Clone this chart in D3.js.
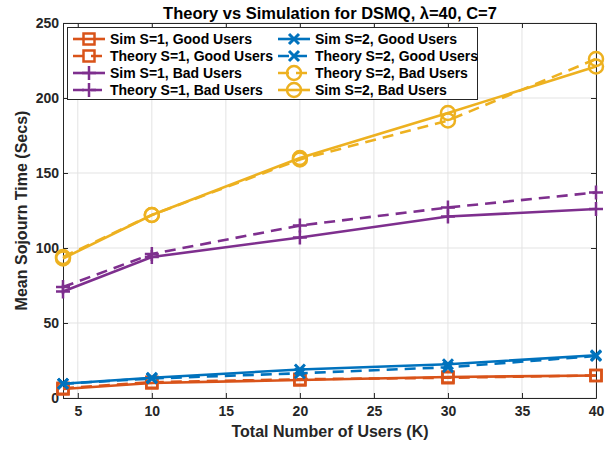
<!DOCTYPE html>
<html>
<head>
<meta charset="utf-8">
<script src="https://cdn.jsdelivr.net/npm/d3@7"></script>
<style>
  body { margin: 0; background: #fff; }
  text { font-family: "Liberation Sans", Arial, sans-serif; font-weight: bold; }
</style>
</head>
<body>
<svg id="chart" width="615" height="450"></svg>
<script>
// Total number of users (K)
const users = [4, 10, 20, 30, 40];

// Mean sojourn time (seconds) per series
const simS1Good    = [6, 10, 12, 14, 15];
const theoryS1Good = [6.5, 10.5, 12.5, 13.5, 15];
const simS1Bad     = [71, 94, 107, 121, 126];
const theoryS1Bad  = [74, 96, 115, 127, 137];
const simS2Good    = [9.5, 13.5, 19, 22.5, 28.5];
const theoryS2Good = [9.5, 13, 16.5, 20.5, 28];
const theoryS2Bad  = [94, 122, 159, 185, 226];
const simS2Bad     = [93, 122, 160, 190, 221];

const xTicks = [5, 10, 15, 20, 25, 30, 35, 40];
const yTicks = [0, 50, 100, 150, 200, 250];

const series = [
  { name: "Sim S=1, Good Users",    values: simS1Good,    color: "#D95319", dash: false, marker: "square" },
  { name: "Theory S=1, Good Users", values: theoryS1Good, color: "#D95319", dash: true,  marker: "square" },
  { name: "Sim S=1, Bad Users",     values: simS1Bad,     color: "#7E2F8E", dash: false, marker: "plus" },
  { name: "Theory S=1, Bad Users",  values: theoryS1Bad,  color: "#7E2F8E", dash: true,  marker: "plus" },
  { name: "Sim S=2, Good Users",    values: simS2Good,    color: "#0072BD", dash: false, marker: "cross" },
  { name: "Theory S=2, Good Users", values: theoryS2Good, color: "#0072BD", dash: true,  marker: "cross" },
  { name: "Theory S=2, Bad Users",  values: theoryS2Bad,  color: "#EDB120", dash: true,  marker: "circle" },
  { name: "Sim S=2, Bad Users",     values: simS2Bad,     color: "#EDB120", dash: false, marker: "circle" }
];

const svg = d3.select("#chart");
const margin = { left: 63, right: 19, top: 23, bottom: 52 };
const W = 615, H = 450;
const x = d3.scaleLinear().domain([4, 40]).range([margin.left, W - margin.right]);
const y = d3.scaleLinear().domain([0, 250]).range([H - margin.bottom, margin.top]);

const plot = svg.append("g");

// grid
plot.append("g").selectAll("line").data(xTicks).join("line")
  .attr("x1", d => x(d)).attr("x2", d => x(d))
  .attr("y1", y(0)).attr("y2", y(250))
  .attr("stroke", "#e3e3e3").attr("stroke-width", 1);
plot.append("g").selectAll("line").data(yTicks).join("line")
  .attr("x1", x(4)).attr("x2", x(40))
  .attr("y1", d => y(d)).attr("y2", d => y(d))
  .attr("stroke", "#e3e3e3").attr("stroke-width", 1);

// axes (ticks pointing inward)
const axisStyle = g => {
  g.select(".domain").attr("stroke", "#262626").attr("stroke-width", 1);
  g.selectAll(".tick line").attr("stroke", "#262626");
  g.selectAll(".tick text").attr("fill", "#262626")
    .style("font-size", "14px").style("font-weight", "bold")
    .style("font-family", "'Liberation Sans', Arial, sans-serif");
};
svg.append("g").attr("transform", `translate(0,${y(0)})`)
  .call(d3.axisBottom(x).tickValues(xTicks).tickSize(-5).tickPadding(8).tickSizeOuter(0))
  .call(axisStyle);
svg.append("g").attr("transform", `translate(0,${y(250)})`)
  .call(d3.axisTop(x).tickValues(xTicks).tickSize(-5).tickFormat("").tickSizeOuter(0))
  .call(axisStyle);
svg.append("g").attr("transform", `translate(${x(4)},0)`)
  .call(d3.axisLeft(y).tickValues(yTicks).tickSize(-5).tickPadding(4).tickSizeOuter(0))
  .call(axisStyle)
  .call(g => g.selectAll(".tick text").attr("x", -4));
svg.append("g").attr("transform", `translate(${x(40)},0)`)
  .call(d3.axisRight(y).tickValues(yTicks).tickSize(-5).tickFormat("").tickSizeOuter(0))
  .call(axisStyle);

// marker drawing
function drawMarker(g, type, cx, cy, color) {
  const sw = 2.5;
  if (type === "square") {
    g.append("rect").attr("x", cx - 5.5).attr("y", cy - 5.5).attr("width", 11).attr("height", 11)
      .attr("fill", "none").attr("stroke", color).attr("stroke-width", sw);
  } else if (type === "circle") {
    g.append("circle").attr("cx", cx).attr("cy", cy).attr("r", 7)
      .attr("fill", "none").attr("stroke", color).attr("stroke-width", sw);
  } else if (type === "plus") {
    g.append("path").attr("d", `M${cx - 7},${cy}H${cx + 7}M${cx},${cy - 7}V${cy + 7}`)
      .attr("stroke", color).attr("stroke-width", sw).attr("fill", "none");
  } else if (type === "cross") {
    const r = 5;
    g.append("path").attr("d", `M${cx - r},${cy - r}L${cx + r},${cy + r}M${cx - r},${cy + r}L${cx + r},${cy - r}`)
      .attr("stroke", color).attr("stroke-width", 3).attr("fill", "none");
  }
}

const line = d3.line().x((d, i) => x(users[i])).y(d => y(d));

series.forEach(s => {
  const g = svg.append("g");
  g.append("path").datum(s.values).attr("d", line)
    .attr("fill", "none").attr("stroke", s.color).attr("stroke-width", 2.6)
    .attr("stroke-dasharray", s.dash ? "11,7" : null);
  s.values.forEach((v, i) => drawMarker(g, s.marker, x(users[i]), y(v), s.color));
});

// legend
const lg = svg.append("g");
lg.append("rect").attr("x", 67.5).attr("y", 27.5).attr("width", 410).attr("height", 72)
  .attr("fill", "#fff").attr("stroke", "#262626").attr("stroke-width", 1);
series.forEach((s, i) => {
  const col = Math.floor(i / 4), row = i % 4;
  const lx = 73 + col * 205, ly = 39 + row * 17;
  const g = lg.append("g");
  g.append("line").attr("x1", lx).attr("x2", lx + 32).attr("y1", ly).attr("y2", ly)
    .attr("stroke", s.color).attr("stroke-width", 2.6)
    .attr("stroke-dasharray", s.dash ? "11,7" : null);
  drawMarker(g, s.marker, lx + 16, ly, s.color);
  g.append("text").attr("x", lx + 37).attr("y", ly + 5).attr("fill", "#000")
    .style("font-size", "14px").text(s.name);
});

// title and axis labels
svg.append("text").attr("x", 330).attr("y", 18.5).attr("text-anchor", "middle")
  .attr("fill", "#000").style("font-size", "16.5px")
  .text("Theory vs Simulation for DSMQ, λ=40, C=7");
svg.append("text").attr("x", 330).attr("y", 437).attr("text-anchor", "middle")
  .attr("fill", "#262626").style("font-size", "16px").text("Total Number of Users (K)");
svg.append("text").attr("transform", `translate(27,${y(125)}) rotate(-90)`)
  .attr("text-anchor", "middle").attr("fill", "#262626").style("font-size", "16px")
  .text("Mean Sojourn Time (Secs)");
</script>
</body>
</html>
